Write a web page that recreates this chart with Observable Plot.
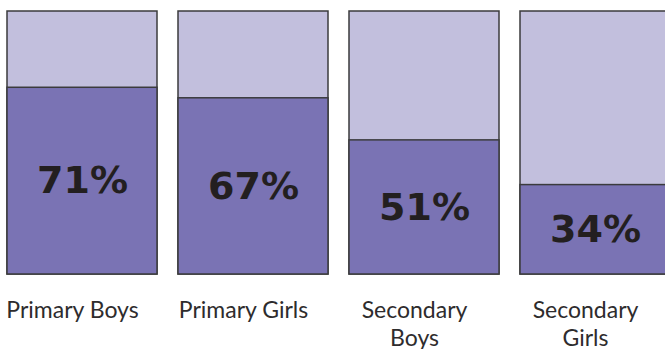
<!DOCTYPE html>
<html>
<head>
<meta charset="utf-8">
<script src="https://cdn.jsdelivr.net/npm/d3@7"></script>
<script src="https://cdn.jsdelivr.net/npm/@observablehq/plot@0.6"></script>
<style>
  html, body { margin: 0; padding: 0; background: #fff; overflow: hidden; }
</style>
</head>
<body>
<div id="chart"></div>
<script>
const categories = ["Primary Boys", "Primary Girls", "Secondary\nBoys", "Secondary\nGirls"];
const values = [71, 67, 51, 34];
const totals = [100, 100, 100, 100];

const data = categories.map((c, i) => ({category: c, value: values[i], total: totals[i]}));

const chart = Plot.plot({
  width: 665,
  height: 349,
  marginLeft: 7,
  marginRight: 0,
  marginTop: 11,
  marginBottom: 75,
  style: {background: "#fff", overflow: "visible"},
  x: {domain: categories, range: [7, 670], paddingInner: 0.123, paddingOuter: 0},
  y: {domain: [0, 100], axis: null},
  marks: [
    Plot.barY(data, {x: "category", y: "total", fill: "#c2bfdd", stroke: "#3b3b3d", strokeWidth: 1.5}),
    Plot.barY(data, {x: "category", y: "value", fill: "#7a73b4", stroke: "#3b3b3d", strokeWidth: 1.5}),
    Plot.text(data, {
      x: "category",
      y: d => d.value / 2,
      text: d => d.value + "%",
      fontSize: 38,
      fontWeight: "bold",
      fontFamily: "DejaVu Sans",
      fill: "#231f20"
    }),
    Plot.axisX({
      tickSize: 0,
      tickPadding: 24,
      fontSize: 23,
      fontFamily: "Lato",
      dx: -10,
      lineHeight: 1.2,
      label: null,
      color: "#2e2c2d"
    })
  ]
});
document.getElementById("chart").appendChild(chart);
</script>
</body>
</html>
